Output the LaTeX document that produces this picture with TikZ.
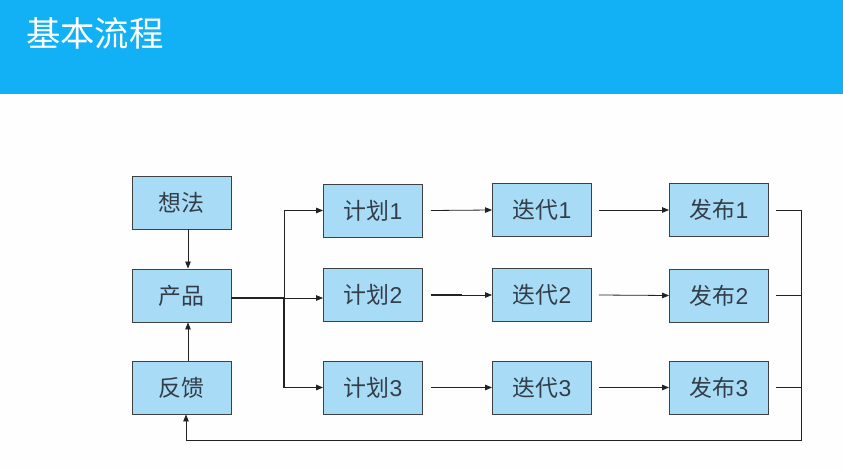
\documentclass[tikz,border=0pt]{standalone}
\usepackage{fontspec}
\setmainfont{Liberation Sans}
\newfontfamily\cjk{Noto Sans CJK SC}
\usetikzlibrary{arrows.meta}
\definecolor{hdr}{HTML}{12B0F4}
\definecolor{boxfill}{HTML}{A8DCF6}
\definecolor{boxline}{HTML}{404040}
\definecolor{txt}{HTML}{333D48}
\definecolor{conn}{HTML}{222222}
\begin{document}
\begin{tikzpicture}[x=1bp,y=-1bp,
  blk/.style={draw=boxline, line width=0.9bp, fill=boxfill, minimum width=99bp, minimum height=53bp, inner sep=0pt, text=txt, font=\fontsize{23}{26}\selectfont},
  conline/.style={draw=conn, line width=0.8bp},
  arr/.style={conline, -{Triangle[length=7bp,width=5.5bp]}}]
\fill[white!99.5!black] (0,0) rectangle (843,470);
\useasboundingbox (0,0) rectangle (843,470);
\fill[hdr] (0,0) rectangle (843,94);
\node[anchor=west, text=white, font=\cjk\fontsize{34.5}{38}\selectfont, inner sep=0pt] (title) at (26,33) {基本流程};

\node[blk] (idea) at (181.5,202.5) {\cjk 想法};
\node[blk] (prod) at (181.5,295.5) {\cjk 产品};
\node[blk] (fb)   at (181.5,387.5) {\cjk 反馈};

\node[blk] (plan1) at (373,210.5) {{\cjk 计划}1};
\node[blk] (plan2) at (373,295) {{\cjk 计划}2};
\node[blk] (plan3) at (373,387.5) {{\cjk 计划}3};

\node[blk] (iter1) at (542,210) {{\cjk 迭代}1};
\node[blk] (iter2) at (542,295) {{\cjk 迭代}2};
\node[blk] (iter3) at (542,387.5) {{\cjk 迭代}3};

\node[blk] (rel1) at (719,210) {{\cjk 发布}1};
\node[blk] (rel2) at (719,295.5) {{\cjk 发布}2};
\node[blk] (rel3) at (719,387.5) {{\cjk 发布}3};

\draw[arr] ([xshift=6.5bp]idea.south) -- ([xshift=6.5bp]prod.north);
\draw[arr] ([xshift=6.5bp]fb.north) -- ([xshift=6.5bp]prod.south);

\coordinate (split) at (284,298);
\draw[conline, line width=1.5bp] (prod.east |- split) -- (split);
\draw[arr] (split) |- (plan1.west);
\draw[arr] (split) -- (plan2.west |- split);
\draw[arr, line width=1.3bp] (split) |- (plan3.west);

\draw[arr] ([xshift=8bp]plan1.east) -- (iter1.west);
\draw[arr] ([xshift=8bp]plan2.east) -- (iter2.west);
\draw[conline, line width=1.5bp] ([xshift=8bp]plan2.east) -- ++(31,0);
\draw[arr] ([xshift=8bp]plan3.east) -- (iter3.west);

\draw[arr] ([xshift=7bp]iter1.east) -- (rel1.west);
\draw[arr] ([xshift=7bp]iter2.east) -- (rel2.west);
\draw[arr] ([xshift=7bp]iter3.east) -- (rel3.west);

\coordinate (rr) at (801,440);
\draw[arr] ([xshift=7bp]rel1.east) -| (rr) -| ([xshift=4.5bp]fb.south);
\draw[conline] ([xshift=7bp]rel2.east) -- (rel2.east -| rr);
\draw[conline] ([xshift=7bp]rel3.east) -- (rel3.east -| rr);
\end{tikzpicture}
\end{document}
